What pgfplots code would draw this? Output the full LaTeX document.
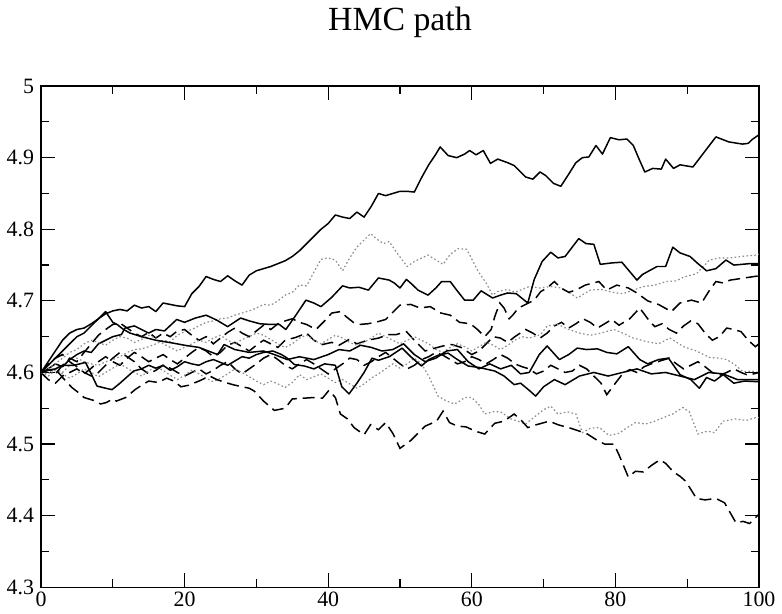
\documentclass[border=0pt]{standalone}
\usepackage{fontspec}
\setmainfont{Liberation Serif}
\usepackage{pgfplots}
\pgfplotsset{compat=1.18}

\pgfplotsset{
  pathsolid/.style={black, line width=0.75pt, line join=round},
  pathdash/.style={black, line width=0.75pt, dash pattern=on 6pt off 3pt},
  pathdot/.style={black!45, line width=0.6pt, dash pattern=on 0.8pt off 1.2pt},
}

\begin{document}
\begin{tikzpicture}
\begin{axis}[
  scale only axis,
  width=361pt, height=252pt,
  xmin=0, xmax=100, ymin=4.3, ymax=5,
  xtick={0,20,40,60,80,100},
  ytick={4.3,4.4,4.5,4.6,4.7,4.8,4.9,5},
  minor x tick num=1, minor y tick num=1,
  tick align=inside,
  major tick length=7pt, minor tick length=4pt,
  tick style={black, line width=0.6pt},
  axis line style={black, line width=0.7pt},
  /pgf/number format/assume math mode=true,
  /pgf/number format/fixed,
  /pgf/number format/precision=1,
  ticklabel style={font=\fontsize{11}{12}\selectfont},
  xticklabel style={yshift=1pt},
  yticklabel style={xshift=0pt},
  title={HMC path},
  title style={font=\fontsize{17}{19}\selectfont, at={(0.5,1)}, anchor=south, yshift=15pt},
  no markers,
  clip=true,
]
% A
\addplot[pathsolid] coordinates {
(0,4.600)(1,4.615)(2,4.630)(3,4.645)(4,4.655)(5,4.660)(6,4.662)(7,4.668)(8,4.675)(9,4.682)(10,4.686)(11,4.688)(12,4.686)(13,4.694)(14,4.690)(15,4.692)(16,4.685)(17,4.697)(18,4.695)(19,4.693)(20,4.692)(21,4.710)(22,4.720)(23,4.734)(24,4.730)(25,4.727)(26,4.735)(27,4.728)(28,4.722)(29,4.736)(30,4.742)(31,4.745)(32,4.748)(33,4.752)(34,4.756)(35,4.762)(36,4.770)(37,4.780)(38,4.790)(39,4.800)(40,4.808)(41,4.820)(42,4.817)(43,4.815)(44,4.824)(45,4.817)(46,4.832)(47,4.850)(48,4.847)(49,4.850)(50,4.853)(51,4.853)(52,4.852)(53,4.872)(54,4.890)(55,4.905)(55.6,4.915)(56.7,4.903)(57.9,4.900)(59,4.905)(59.7,4.910)(60.6,4.904)(61.6,4.910)(62.6,4.892)(63.6,4.898)(65,4.893)(65.9,4.889)(67.5,4.873)(68.5,4.870)(69.5,4.880)(70.3,4.875)(71.4,4.864)(72.4,4.860)(73.5,4.877)(74.5,4.893)(75.4,4.900)(76.3,4.901)(77.3,4.917)(78.2,4.905)(79.3,4.928)(80.5,4.925)(81.6,4.926)(82.5,4.917)(83.3,4.898)(84.1,4.880)(85.2,4.885)(86.4,4.884)(87,4.898)(88.1,4.885)(89,4.890)(90.8,4.887)(92.4,4.908)(94,4.929)(95.8,4.922)(97.7,4.919)(98.5,4.920)(99,4.925)(100,4.932)
};
% B
\addplot[pathdot] coordinates {
(0,4.600)(1,4.598)(2,4.605)(3,4.600)(4,4.610)(5,4.620)(6,4.615)(7,4.612)(8,4.610)(9,4.615)(10,4.618)(11,4.622)(12,4.628)(13,4.632)(14,4.633)(15,4.636)(16,4.640)(17,4.645)(18,4.643)(19,4.652)(20,4.657)(21,4.660)(22,4.665)(23,4.670)(24,4.672)(25,4.675)(26,4.676)(27,4.680)(28,4.683)(29,4.686)(30,4.690)(31,4.695)(32,4.694)(33,4.700)(34,4.708)(35,4.712)(36,4.722)(37,4.721)(38,4.740)(39,4.758)(40,4.760)(41,4.757)(42,4.742)(43,4.760)(44,4.775)(45,4.785)(45.9,4.794)(46.8,4.786)(47.7,4.780)(48.5,4.783)(49.5,4.768)(51,4.748)(52,4.755)(53.9,4.764)(55,4.757)(56,4.751)(57,4.765)(58.1,4.773)(59.3,4.772)(60.9,4.741)(62,4.725)(62.9,4.708)(63.6,4.713)(65,4.716)(66,4.712)(68,4.720)(69.5,4.718)(71,4.720)(72.5,4.718)(74.7,4.704)(76.5,4.715)(78,4.716)(79.5,4.712)(81,4.710)(82.5,4.715)(83.9,4.720)(85.5,4.722)(87.1,4.727)(88.5,4.728)(89.5,4.733)(91.3,4.738)(93.1,4.757)(94.5,4.760)(96,4.760)(97.5,4.762)(99.6,4.764)(100,4.765)
};
% C
\addplot[pathsolid] coordinates {
(0,4.600)(1,4.605)(2,4.612)(3,4.608)(4,4.618)(5,4.625)(6,4.630)(7,4.628)(8,4.640)(9,4.645)(10,4.650)(11.2,4.653)(11.7,4.662)(13,4.665)(15,4.655)(16,4.660)(17.2,4.658)(18.9,4.674)(20,4.670)(21.5,4.676)(23,4.680)(24.5,4.673)(26,4.664)(27.8,4.676)(29,4.672)(30.5,4.668)(32,4.667)(33.2,4.667)(34.1,4.660)(35.5,4.680)(36.9,4.701)(38,4.697)(39,4.692)(40.5,4.705)(42,4.721)(43,4.718)(44.3,4.719)(45.6,4.715)(47,4.732)(48.5,4.729)(49.2,4.725)(50,4.718)(50.9,4.730)(51.8,4.722)(52.5,4.715)(53.9,4.708)(55,4.718)(55.8,4.727)(57,4.727)(57.9,4.715)(59,4.701)(60.2,4.701)(61.3,4.714)(62.9,4.704)(64,4.708)(65,4.711)(66.2,4.710)(67.8,4.697)(68.7,4.730)(69.8,4.755)(71,4.768)(72,4.760)(73,4.762)(74.9,4.787)(75.9,4.780)(77,4.779)(77.9,4.751)(79.5,4.753)(80.9,4.754)(83,4.729)(83.8,4.737)(85.8,4.748)(87,4.748)(88,4.775)(89,4.767)(90.4,4.762)(91.5,4.752)(92.7,4.742)(94,4.745)(95.4,4.757)(96.5,4.750)(98.7,4.752)(100,4.752)
};
% D
\addplot[pathdash] coordinates {
(0,4.600)(1,4.605)(2,4.598)(3,4.610)(4,4.620)(5,4.615)(6,4.628)(7,4.640)(8,4.652)(9,4.660)(10,4.667)(11,4.669)(12,4.662)(13,4.655)(14,4.650)(15,4.656)(16,4.648)(17,4.655)(18,4.650)(19,4.658)(20,4.660)(21,4.652)(22,4.645)(23,4.650)(24,4.640)(25,4.648)(26,4.656)(27,4.662)(28,4.655)(29,4.650)(30,4.658)(31,4.666)(32,4.660)(33,4.668)(34,4.672)(35,4.675)(36,4.670)(37,4.667)(38.3,4.660)(39.5,4.672)(40.5,4.683)(41.7,4.685)(42.5,4.678)(43.5,4.670)(44.3,4.667)(45.5,4.668)(46.6,4.670)(48,4.674)(49,4.684)(50,4.694)(51.5,4.695)(52.8,4.690)(54.2,4.692)(55.7,4.683)(57,4.680)(58.3,4.670)(59.8,4.668)(60.8,4.660)(61.8,4.650)(62.7,4.660)(63.2,4.678)(63.9,4.697)(64.5,4.690)(65.2,4.675)(65.7,4.680)(66.5,4.690)(67.5,4.695)(68.7,4.701)(69.6,4.713)(70.5,4.718)(71.5,4.727)(72.4,4.718)(73.5,4.712)(74.5,4.715)(75.8,4.722)(77.7,4.727)(78.8,4.715)(80.2,4.722)(81.8,4.718)(83,4.711)(84.5,4.700)(86,4.695)(87.8,4.685)(89,4.697)(90.6,4.701)(92,4.697)(93,4.713)(94,4.727)(95,4.725)(96,4.729)(98,4.732)(100,4.735)
};
% E
\addplot[pathdash] coordinates {
(0,4.600)(1,4.590)(2,4.585)(3,4.595)(4,4.600)(5,4.605)(6,4.598)(7,4.606)(8,4.615)(9,4.622)(10,4.615)(11,4.610)(12,4.620)(13,4.628)(14,4.622)(15,4.615)(16,4.620)(17,4.625)(18,4.618)(19,4.612)(20,4.620)(21,4.628)(22,4.635)(23,4.630)(24,4.622)(25,4.628)(26,4.638)(27,4.642)(28,4.636)(29,4.630)(30,4.638)(31,4.645)(32,4.640)(33,4.635)(34,4.645)(35.5,4.649)(37,4.655)(38,4.645)(39.2,4.639)(40.5,4.642)(41.5,4.638)(42.9,4.646)(44,4.640)(45.5,4.645)(47,4.648)(48.4,4.653)(49.5,4.653)(50.9,4.657)(52,4.645)(53.5,4.630)(54.5,4.633)(56,4.637)(57.2,4.639)(58.5,4.635)(60,4.625)(61,4.630)(62,4.640)(63,4.650)(64,4.648)(65,4.642)(66,4.650)(67.5,4.660)(68.5,4.655)(69.5,4.648)(70.5,4.655)(71.5,4.665)(72.5,4.670)(73.5,4.662)(74.5,4.668)(75.5,4.675)(76.5,4.670)(77.5,4.662)(78.5,4.668)(79.5,4.674)(80.5,4.666)(82,4.675)(83.4,4.690)(84.8,4.671)(85.5,4.664)(86.5,4.668)(87.5,4.660)(88.5,4.655)(89.5,4.665)(90.5,4.672)(91.5,4.668)(92.5,4.655)(93.5,4.645)(94.5,4.650)(95.5,4.662)(96.5,4.660)(97.5,4.657)(98.5,4.645)(99.5,4.636)(100,4.640)
};
% F
\addplot[pathdot] coordinates {
(0,4.600)(1,4.605)(2,4.612)(3,4.620)(4,4.628)(5,4.632)(6,4.640)(7,4.645)(8,4.642)(9,4.638)(10,4.645)(11,4.650)(12,4.648)(13,4.642)(14,4.646)(15,4.652)(16,4.648)(17,4.640)(18,4.635)(19,4.630)(20,4.635)(21,4.640)(22,4.645)(23,4.642)(24,4.648)(25,4.652)(26,4.645)(27,4.640)(28,4.646)(29,4.650)(30,4.655)(31,4.652)(32,4.646)(33,4.640)(34,4.635)(35,4.640)(36,4.648)(37,4.652)(38,4.645)(39,4.640)(40,4.646)(41,4.652)(42,4.648)(43,4.642)(44,4.638)(45,4.642)(46,4.648)(47,4.655)(48,4.650)(49,4.645)(50,4.640)(51,4.645)(52,4.650)(53,4.645)(54,4.640)(55,4.632)(56,4.628)(57,4.635)(58,4.640)(59,4.636)(60,4.630)(61,4.636)(62,4.642)(63,4.638)(64,4.632)(65,4.638)(66,4.645)(67,4.650)(68,4.648)(69.6,4.653)(70.5,4.665)(72,4.667)(73.5,4.660)(75,4.655)(76.5,4.652)(78,4.655)(79.8,4.660)(81,4.655)(82.5,4.648)(84.4,4.643)(86,4.640)(87.6,4.648)(89.5,4.636)(91.3,4.630)(93.1,4.621)(94.5,4.620)(95.5,4.618)(96.5,4.612)(97.8,4.601)(99,4.602)(100,4.600)
};
% G
\addplot[pathsolid] coordinates {
(0,4.600)(1,4.610)(2,4.620)(3,4.630)(4,4.640)(5,4.650)(6,4.655)(7,4.665)(8,4.675)(9,4.685)(10,4.670)(10.6,4.667)(11.5,4.660)(12.4,4.655)(14,4.650)(16,4.645)(18.4,4.641)(20,4.638)(22,4.635)(24.6,4.625)(25.5,4.639)(27,4.632)(29,4.628)(31,4.630)(32.5,4.625)(34.3,4.618)(36,4.622)(38,4.618)(40,4.625)(41.5,4.632)(43,4.630)(44.5,4.638)(46,4.635)(47.5,4.630)(49,4.632)(50.5,4.640)(52,4.625)(53.5,4.615)(55,4.620)(56.5,4.630)(58,4.632)(59.5,4.615)(61,4.605)(62.5,4.612)(64,4.605)(65.5,4.610)(66.8,4.598)(68,4.600)(69.4,4.625)(70.5,4.637)(72.2,4.618)(73.5,4.625)(74.7,4.634)(76,4.632)(77.5,4.633)(78.8,4.628)(80.2,4.626)(81.8,4.636)(83.4,4.618)(84.5,4.612)(86,4.618)(87.4,4.620)(89,4.597)(90.5,4.590)(91.7,4.578)(92.7,4.593)(93.8,4.588)(95,4.597)(96.5,4.585)(98,4.588)(100,4.587)
};
% H
\addplot[pathdash] coordinates {
(0,4.600)(1,4.612)(2,4.620)(3,4.625)(4,4.615)(5,4.608)(6,4.600)(7,4.595)(8,4.600)(9,4.610)(10,4.620)(11,4.628)(12,4.622)(13,4.615)(14,4.605)(15,4.598)(16,4.603)(17,4.610)(18,4.606)(19,4.600)(20,4.595)(21,4.600)(22,4.605)(23,4.598)(24,4.603)(25,4.610)(26,4.615)(27,4.605)(28,4.598)(29,4.605)(30,4.612)(31,4.620)(32,4.625)(33,4.618)(34,4.610)(35,4.605)(36,4.612)(37,4.618)(38,4.612)(39,4.605)(40,4.598)(41,4.605)(42,4.612)(43,4.620)(44,4.618)(45,4.610)(46,4.615)(47,4.622)(48,4.628)(49,4.620)(50,4.612)(51,4.605)(52,4.610)(53,4.618)(54,4.622)(55,4.628)(56,4.624)(57,4.618)(58,4.612)(59,4.615)(60,4.622)(61,4.618)(62,4.612)(63,4.618)(64,4.625)(65,4.620)(66,4.612)(67,4.608)(68,4.605)(69,4.598)(70,4.602)(71,4.610)(72,4.605)(73,4.600)(74,4.602)(75,4.610)(76,4.605)(77,4.595)(78,4.585)(78.8,4.569)(80,4.585)(81,4.598)(82,4.604)(83,4.600)(84,4.608)(85,4.612)(86.2,4.616)(87.5,4.620)(88.5,4.612)(89.5,4.605)(90.5,4.610)(91.5,4.615)(92.5,4.608)(93.5,4.600)(94.5,4.596)(95.5,4.600)(96.5,4.605)(97.5,4.600)(98.5,4.596)(100,4.600)
};
% I
\addplot[pathdot] coordinates {
(0,4.600)(1,4.595)(2,4.603)(3,4.598)(4,4.592)(5,4.598)(6,4.605)(7,4.600)(8,4.594)(9,4.600)(10,4.606)(11,4.612)(12,4.606)(13,4.600)(14,4.595)(15,4.602)(16,4.608)(17,4.603)(18,4.596)(19,4.590)(20,4.596)(21,4.603)(22,4.598)(23,4.592)(24,4.587)(25,4.592)(26,4.598)(27,4.605)(28,4.600)(29,4.594)(30,4.588)(31,4.583)(32,4.588)(33,4.584)(34,4.579)(35,4.586)(36,4.597)(37,4.590)(38,4.594)(39,4.598)(40,4.592)(41,4.586)(42,4.590)(43,4.584)(44,4.578)(45,4.584)(46,4.592)(47,4.598)(48,4.605)(49,4.612)(50,4.606)(51,4.612)(52,4.620)(53,4.612)(54,4.595)(55.3,4.567)(56.5,4.560)(57.6,4.556)(58.3,4.560)(59,4.565)(60,4.565)(61,4.555)(61.8,4.542)(63,4.545)(64,4.545)(65.5,4.535)(66.4,4.532)(67.5,4.528)(69,4.540)(70,4.548)(71,4.553)(72,4.542)(73.3,4.545)(74.5,4.542)(75.4,4.516)(76.5,4.522)(77.8,4.523)(79.1,4.512)(80.5,4.515)(81.5,4.522)(82.8,4.530)(84.2,4.528)(85.5,4.532)(86.7,4.537)(88,4.542)(89.4,4.551)(90.3,4.545)(91.5,4.514)(92.8,4.518)(93.8,4.516)(95,4.532)(96.7,4.535)(98.2,4.533)(99.6,4.537)(100,4.537)
};
% J
\addplot[pathdash] coordinates {
(0,4.600)(1,4.603)(2,4.605)(3,4.593)(4.3,4.579)(5.2,4.572)(6,4.565)(7.3,4.561)(8.3,4.556)(9.1,4.558)(10,4.563)(10.5,4.560)(11.8,4.565)(13.1,4.576)(14,4.582)(15,4.588)(16.3,4.586)(17.5,4.592)(18.5,4.588)(19.5,4.580)(20.5,4.582)(22,4.588)(23.5,4.595)(24.5,4.590)(25.7,4.586)(26.7,4.583)(28,4.580)(29,4.578)(29.7,4.574)(31,4.560)(32.5,4.547)(34,4.550)(35,4.563)(36.5,4.564)(38,4.565)(39.2,4.564)(40.1,4.575)(41,4.565)(41.7,4.542)(42.7,4.535)(43.6,4.523)(45,4.513)(45.9,4.527)(47,4.520)(48,4.530)(49,4.515)(50,4.494)(51.5,4.505)(52.5,4.515)(53.5,4.525)(55.1,4.532)(56,4.546)(56.9,4.530)(58,4.525)(59.2,4.524)(60.5,4.518)(61.8,4.514)(63.2,4.529)(64.5,4.532)(65.9,4.542)(67,4.532)(67.8,4.523)(69,4.527)(70.8,4.532)(72,4.527)(73.8,4.522)(75,4.518)(76.1,4.514)(77.5,4.505)(78.5,4.500)(79.8,4.500)(80.5,4.485)(81.8,4.454)(82.8,4.462)(83.9,4.461)(85,4.470)(86.2,4.478)(87,4.473)(88.1,4.461)(89,4.455)(89.8,4.448)(91.3,4.424)(92.5,4.422)(94,4.424)(95.2,4.418)(96.8,4.390)(97.8,4.392)(98.7,4.389)(99.6,4.398)(100,4.402)
};
% M
\addplot[pathsolid] coordinates {
(0,4.600)(1,4.603)(2,4.605)(3,4.610)(4.6,4.610)(6.2,4.614)(7,4.598)(7.8,4.581)(9,4.578)(9.9,4.576)(11,4.585)(12.9,4.602)(14,4.605)(15,4.610)(16,4.606)(17,4.610)(18,4.603)(19,4.608)(20,4.615)(21,4.612)(22,4.610)(23,4.615)(24,4.618)(25,4.614)(26,4.610)(27,4.616)(28,4.622)(29,4.620)(30,4.625)(31,4.628)(32.3,4.630)(33.5,4.625)(34.3,4.620)(35.3,4.611)(36.7,4.609)(38,4.605)(39.5,4.612)(41,4.610)(41.9,4.580)(42.9,4.570)(44,4.585)(45,4.600)(46.1,4.620)(47,4.617)(48.5,4.622)(50.3,4.634)(51.5,4.622)(53,4.609)(54,4.618)(55.3,4.624)(56.7,4.627)(58,4.618)(59.5,4.609)(61,4.607)(63.2,4.602)(64.5,4.595)(65.9,4.583)(66.8,4.585)(68,4.575)(68.9,4.567)(70,4.580)(71.5,4.590)(73,4.583)(75,4.595)(77,4.600)(79,4.595)(81,4.600)(83,4.605)(85,4.598)(87,4.600)(89,4.595)(91,4.590)(93,4.600)(95,4.598)(97,4.590)(100,4.590)
};
\end{axis}
\end{tikzpicture}
\end{document}
